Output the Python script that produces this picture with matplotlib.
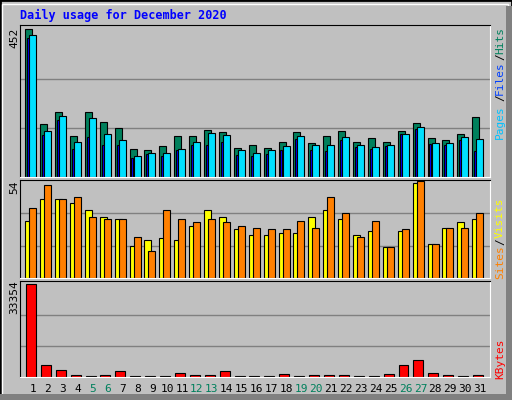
import matplotlib
matplotlib.use('Agg')
import matplotlib.pyplot as plt
from matplotlib.patches import Rectangle

days = list(range(1, 32))
weekend = [5, 6, 12, 13, 19, 20, 26, 27]

hits = [452, 162, 199, 125, 199, 168, 150, 85, 82, 94, 125, 125, 144, 138, 88, 98,
        88, 107, 138, 104, 125, 141, 107, 119, 107, 141, 165, 119, 113, 131, 184]
files = [427, 128, 175, 85, 122, 98, 98, 58, 70, 64, 82, 98, 98, 107, 67, 64,
         70, 82, 116, 82, 79, 113, 91, 85, 94, 131, 147, 101, 98, 113, 79]
pages = [436, 141, 187, 107, 181, 131, 113, 64, 73, 73, 85, 107, 135, 128, 82, 73,
         82, 94, 125, 98, 98, 122, 98, 91, 98, 131, 153, 104, 104, 122, 116]
visits = [32, 44, 44, 42, 38, 34, 33, 18, 21, 22, 21, 29, 38, 34, 27, 24,
          24, 25, 25, 34, 38, 33, 24, 26, 17, 26, 53, 19, 28, 31, 33]
sites = [39, 52, 44, 45, 34, 33, 33, 23, 15, 38, 33, 31, 33, 31, 29, 28,
         27, 27, 32, 28, 45, 36, 23, 32, 17, 27, 54, 19, 28, 28, 36]
kbytes = [33354, 4400, 2570, 730, 370, 730, 2200, 370, 370, 370, 1470, 730, 730, 2200, 370, 370,
          370, 1100, 370, 730, 730, 730, 370, 370, 1100, 4400, 6230, 1470, 730, 370, 730]

BG = '#C0C0C0'
W, H = 512, 400
fig = plt.figure(figsize=(W / 100, H / 100), dpi=100)
fig.patch.set_facecolor(BG)
mono = 'DejaVu Sans Mono'

# outer bevel
fig.patches.append(Rectangle((0, 0), 1, 1, transform=fig.transFigure, fill=False, ec='black', lw=2))
fig.patches.append(Rectangle((2 / W, 2 / H), 1 - 6 / W, 1 - 6 / H, transform=fig.transFigure, fill=False, ec='white', lw=1))
fig.patches.append(Rectangle((W - 6, 0), 6, H - 6, transform=None, fc='#808080', ec='none'))
fig.patches.append(Rectangle((0, 0), W, 6, transform=None, fc='#808080', ec='none'))

fig.text(20 / W, 1 - 15 / H, 'Daily usage for December 2020', color='#0000FF', fontsize=8.5,
         fontweight='bold', family=mono, va='center')

X0, X1 = 0.13, 31.67


def panel(top, bottom):
    ax = fig.add_axes([20 / W, 1 - bottom / H, 470 / W, (bottom - top) / H])
    ax.set_facecolor(BG)
    ax.set_xlim(X0, X1)
    ax.set_xticks([])
    ax.set_yticks([])
    for s in ['left', 'top']:
        ax.spines[s].set_color('black')
    for s in ['right', 'bottom']:
        ax.spines[s].set_color('white')
    return ax


def grid(ax, vmax):
    for f in (1 / 3, 2 / 3):
        ax.axhline(vmax * f, color='#808080', lw=1, zorder=0)


def rlabel(y, s, col):
    fig.text(500 / W, 1 - y / H, s, rotation=90, fontsize=8, family=mono, color=col,
             ha='center', va='center')


kw = dict(edgecolor='black', linewidth=0.8, align='edge')

# top panel
ax1 = panel(25, 177)
ax1.set_ylim(0, 452 * 1.03)
grid(ax1, 452)
x = [d - 0.52 for d in days]
ax1.bar(x, hits, width=0.47, color='#00805C', **kw)
ax1.bar([d - 0.39 for d in days], files, width=0.13, color='#0000FF', **kw)
ax1.bar([d - 0.25 for d in days], pages, width=0.47, color='#00E0FF', **kw)
fig.text(14 / W, 1 - 38 / H, '452', rotation=90, fontsize=8, family=mono, ha='center', va='center')
rlabel(40, 'Hits', '#00805C')
rlabel(57, '/', 'black')
rlabel(78, 'Files', '#0040FF')
rlabel(98, '/', 'black')
rlabel(122, 'Pages', '#00C0FF')

# middle panel
ax2 = panel(180, 278)
ax2.set_ylim(0, 54 * 1.01)
grid(ax2, 54)
ax2.bar(x, visits, width=0.47, color='#FFFF00', **kw)
ax2.bar([d - 0.25 for d in days], sites, width=0.47, color='#FF8000', **kw)
fig.text(14 / W, 1 - 187 / H, '54', rotation=90, fontsize=8, family=mono, ha='center', va='center')
rlabel(218, 'Visits', '#FFFF00')
rlabel(242, '/', 'black')
rlabel(262, 'Sites', '#FF8000')

# bottom panel
ax3 = panel(281, 377)
ax3.set_ylim(0, 33354 * 1.03)
grid(ax3, 33354)
ax3.bar([d - 0.47 for d in days], kbytes, width=0.67, color='#FF0000', **kw)
fig.text(14 / W, 1 - 297 / H, '33354', rotation=90, fontsize=8, family=mono, ha='center', va='center')
rlabel(359, 'KBytes', '#FF0000')

for d in days:
    px = 20 + (d - X0) / (X1 - X0) * 470
    col = '#00805C' if d in weekend else 'black'
    fig.text(px / W, 1 - 389 / H, str(d), fontsize=8, family=mono, color=col, ha='center', va='center')

fig.savefig('out.png', dpi=100, facecolor=BG)
